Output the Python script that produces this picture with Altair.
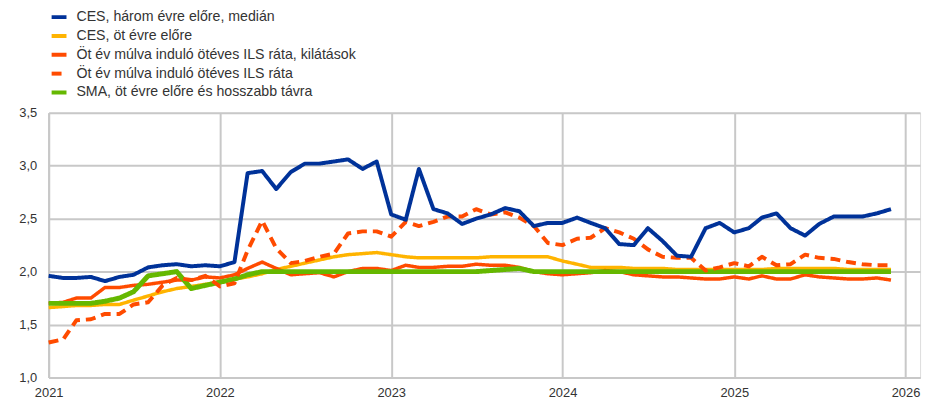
import altair as alt
import pandas as pd

# Monthly observations, Jan 2021 - Dec 2025
months = pd.date_range("2021-01-01", periods=60, freq="MS").strftime("%Y-%m-%dT00:00:00").tolist()

series_names = [
    "CES, három évre előre, medián",
    "CES, öt évre előre",
    "Öt év múlva induló ötéves ILS ráta, kilátások",
    "Öt év múlva induló ötéves ILS ráta",
    "SMA, öt évre előre és hosszabb távra",
]

ces_3y = [1.96, 1.94, 1.94, 1.95, 1.91, 1.95, 1.97, 2.04, 2.06, 2.07, 2.05, 2.06,
          2.05, 2.09, 2.93, 2.95, 2.78, 2.94, 3.02, 3.02, 3.04, 3.06, 2.97, 3.04,
          2.54, 2.49, 2.97, 2.59, 2.55, 2.45, 2.50, 2.54, 2.60, 2.57, 2.43, 2.46,
          2.46, 2.51, 2.46, 2.41, 2.26, 2.25, 2.41, 2.29, 2.15, 2.14, 2.41, 2.46,
          2.37, 2.41, 2.51, 2.55, 2.41, 2.34, 2.45, 2.52, 2.52, 2.52, 2.55, 2.59]

ces_5y = [1.66, 1.67, 1.68, 1.68, 1.69, 1.69, 1.73, 1.77, 1.81, 1.84, 1.86, 1.88,
          1.90, 1.93, 1.95, 1.98, 2.02, 2.05, 2.08, 2.11, 2.14, 2.16, 2.17, 2.18,
          2.16, 2.14, 2.13, 2.13, 2.13, 2.13, 2.13, 2.14, 2.14, 2.14, 2.14, 2.14,
          2.10, 2.07, 2.04, 2.04, 2.04, 2.03, 2.03, 2.03, 2.02, 2.02, 2.02, 2.02,
          2.02, 2.02, 2.02, 2.03, 2.03, 2.03, 2.03, 2.03, 2.02, 2.02, 2.02, 2.02]

ils_outlook = [1.70, 1.71, 1.75, 1.75, 1.85, 1.85, 1.87, 1.88, 1.90, 1.92, 1.92, 1.95,
               1.94, 1.97, 2.03, 2.09, 2.03, 1.97, 1.98, 1.99, 1.95, 2.00, 2.03, 2.03,
               2.01, 2.06, 2.04, 2.04, 2.05, 2.05, 2.07, 2.06, 2.06, 2.04, 2.00, 1.98,
               1.97, 1.98, 1.99, 2.01, 2.00, 1.97, 1.96, 1.95, 1.95, 1.94, 1.93, 1.93,
               1.95, 1.93, 1.96, 1.93, 1.93, 1.97, 1.95, 1.94, 1.93, 1.93, 1.94, 1.92]

ils_market = [1.33, 1.36, 1.54, 1.55, 1.60, 1.60, 1.69, 1.71, 1.87, 1.94, 1.92, 1.96,
              1.86, 1.89, 2.20, 2.48, 2.22, 2.08, 2.10, 2.14, 2.17, 2.36, 2.38, 2.38,
              2.33, 2.47, 2.43, 2.47, 2.52, 2.52, 2.59, 2.54, 2.56, 2.51, 2.43, 2.27,
              2.25, 2.31, 2.32, 2.41, 2.37, 2.31, 2.21, 2.14, 2.13, 2.13, 2.01, 2.04,
              2.08, 2.05, 2.14, 2.06, 2.07, 2.16, 2.13, 2.12, 2.09, 2.07, 2.06, 2.06]

sma = [1.70, 1.70, 1.70, 1.70, 1.72, 1.75, 1.81, 1.96, 1.98, 2.00, 1.84, 1.87,
       1.90, 1.93, 1.97, 2.00, 2.00, 2.00, 2.00, 2.00, 2.00, 2.00, 2.00, 2.00,
       2.00, 2.00, 2.00, 2.00, 2.00, 2.00, 2.00, 2.01, 2.02, 2.03, 2.00, 2.00,
       2.00, 2.00, 2.00, 2.00, 2.00, 2.00, 2.00, 2.00, 2.00, 2.00, 2.00, 2.00,
       2.00, 2.00, 2.00, 2.00, 2.00, 2.00, 2.00, 2.00, 2.00, 2.00, 2.00, 2.00]

colors = ["#003299", "#FFB400", "#FF4B00", "#FF4B00", "#65B800"]
dashes = [[1, 0], [1, 0], [1, 0], [10, 6], [1, 0]]
y_ticks = [1.0, 1.5, 2.0, 2.5, 3.0, 3.5]
year_ticks = [2021, 2022, 2023, 2024, 2025, 2026]

values = [ces_3y, ces_5y, ils_outlook, ils_market, sma]
rows = []
for name, vals in zip(series_names, values):
    for d, v in zip(months, vals):
        rows.append({"date": d, "series": name, "value": v})
df = pd.DataFrame(rows)

legend_args = dict(
    title=None, orient="none", legendX=1, legendY=-106,
    labelFontSize=14.3, labelFont="Liberation Sans", labelColor="#333333",
    symbolType="stroke", symbolSize=225, symbolStrokeWidth=4,
    rowPadding=1, labelOffset=8, labelLimit=600, padding=0,
)

x_enc = alt.X(
    "date:T",
    title=None,
    scale=alt.Scale(domain=[alt.DateTime(year=2021, month=1, date=1),
                            alt.DateTime(year=2026, month=2, date=1)]),
    axis=alt.Axis(values=[alt.DateTime(year=y, month=1, date=1) for y in year_ticks],
                  format="%Y", labelFont="Liberation Sans", labelFontSize=13,
                  labelColor="#333333", ticks=False, labelPadding=9,
                  domainColor="#c8c8c8", domainWidth=2,
                  gridColor="#c8c8c8", gridWidth=2, labelFlush=False),
)
y_enc = alt.Y(
    "value:Q",
    title=None,
    scale=alt.Scale(domain=[1.0, 3.5], nice=False, zero=False),
    axis=alt.Axis(values=y_ticks, labelExpr="replace(format(datum.value, '.1f'), '.', ',')",
                  labelFont="Liberation Sans", labelFontSize=13, labelColor="#333333",
                  ticks=False, labelPadding=12, domainColor="#c8c8c8", domainWidth=2,
                  gridColor="#c8c8c8", gridWidth=2),
)
color_enc = alt.Color("series:N", scale=alt.Scale(domain=series_names, range=colors),
                      legend=alt.Legend(**legend_args))
dash_enc = alt.StrokeDash("series:N", scale=alt.Scale(domain=series_names, range=dashes),
                          legend=alt.Legend(**legend_args))

draw_order = [(1, 3.5), (2, 3.5), (4, 5), (3, 4), (0, 4)]
layers = []
for idx, w in draw_order:
    layers.append(
        alt.Chart(df).transform_filter(alt.datum.series == series_names[idx])
        .mark_line(strokeWidth=w, strokeJoin="round", strokeCap="butt")
        .encode(x=x_enc, y=y_enc, color=color_enc, strokeDash=dash_enc)
    )

chart = alt.layer(*layers).properties(
    width=879, height=267,
    autosize=alt.AutoSizeParams(type="none"),
    padding={"left": 41, "top": 104, "right": 8, "bottom": 20},
).configure_view(stroke=None).configure(background="white")

chart.save("out.html", embed_options={"renderer": "svg", "actions": False})
